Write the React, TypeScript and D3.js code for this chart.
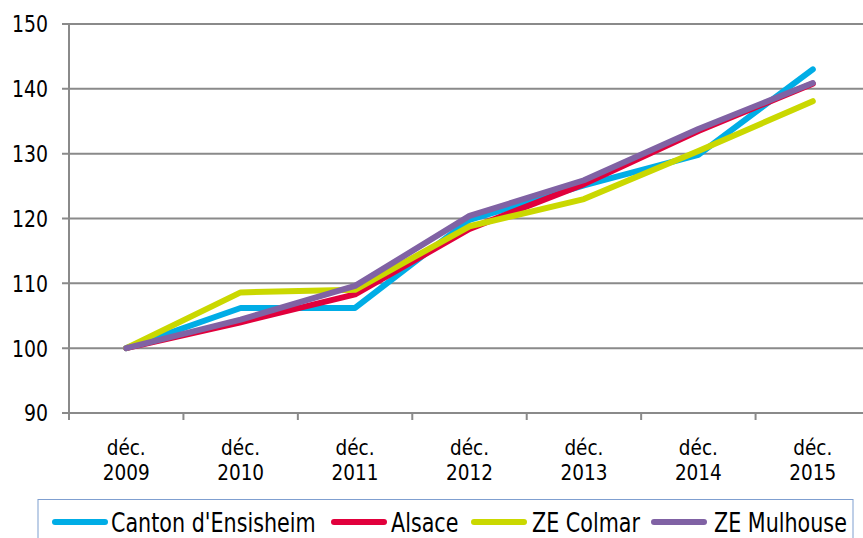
import React from "react";
import * as d3 from "d3";

const categories = ["déc.\n2009", "déc.\n2010", "déc.\n2011", "déc.\n2012", "déc.\n2013", "déc.\n2014", "déc.\n2015"];
const yTicks = [90, 100, 110, 120, 130, 140, 150];
const canton = [100, 106.2, 106.2, 119.8, 125.1, 129.8, 143.0];
const alsace = [100, 104.0, 108.3, 118.4, 125.3, 133.5, 140.8];
const colmar = [100, 108.6, 109.0, 118.8, 123.0, 130.4, 138.1];
const mulhouse = [100, 104.4, 109.6, 120.4, 125.9, 133.8, 140.9];

const seriesNames = ["Canton d'Ensisheim", "Alsace", "ZE Colmar", "ZE Mulhouse"];
const seriesData = [canton, alsace, colmar, mulhouse];
const colors = ["#00ADE6", "#E1003C", "#CAD800", "#8062A4"];

const W = 863, H = 538;
const left = 69, right = 870, top = 24, bottom = 413;
const FONT = "'DejaVu Sans Condensed', 'DejaVu Sans', sans-serif";
const SY = 1.12;

function T({ x, y, size, anchor, children }: { x: number; y: number; size: number; anchor?: string; children: React.ReactNode }) {
  return (
    <text transform={`translate(${x},${y}) scale(1,${SY})`} dy="0.36em" textAnchor={anchor || "start"} fontSize={size} fill="#000">
      {children}
    </text>
  );
}

export default function App() {
  const x = d3.scaleBand<number>().domain(d3.range(categories.length)).range([left, right]).paddingInner(0).paddingOuter(0);
  const y = d3.scaleLinear().domain([90, 150]).range([bottom, top]);
  const line = d3.line<number>().x((_, i) => (x(i) as number) + x.bandwidth() / 2).y((d) => y(d));

  const legendItems = [
    { lx: 55, tx: 111 },
    { lx: 334, tx: 391 },
    { lx: 474, tx: 532 },
    { lx: 654, tx: 714 },
  ];

  return (
    <svg width={W} height={H} style={{ position: "absolute", left: 0, top: 0, background: "#fff" }} fontFamily={FONT}>
      {yTicks.map((t) => (
        <g key={t}>
          <line x1={62} x2={W} y1={y(t)} y2={y(t)} stroke="#8a8a8a" strokeWidth={2} />
          <T x={48} y={y(t)} size={21} anchor="end">{t}</T>
        </g>
      ))}
      <line x1={left} x2={left} y1={top} y2={bottom + 7} stroke="#8a8a8a" strokeWidth={2} />
      {categories.map((c, i) => {
        const bx = x(i) as number;
        const cx = bx + x.bandwidth() / 2;
        const parts = c.split("\n");
        return (
          <g key={i}>
            <line x1={bx + x.bandwidth()} x2={bx + x.bandwidth()} y1={bottom} y2={bottom + 7} stroke="#8a8a8a" strokeWidth={2} />
            <text x={cx} y={448} dy="0.36em" textAnchor="middle" fontSize={20.5} fill="#000">{parts[0]}</text>
            <text x={cx} y={472.5} dy="0.36em" textAnchor="middle" fontSize={20.5} fill="#000">{parts[1]}</text>
          </g>
        );
      })}
      {seriesData.map((s, k) => (
        <path key={k} d={line(s) || ""} fill="none" stroke={colors[k]} strokeWidth={6} strokeLinejoin="round" strokeLinecap="round" />
      ))}
      <rect x={38} y={499.5} width={815} height={60} fill="none" stroke="#7f9fd0" strokeWidth={1} />
      {seriesNames.map((n, k) => (
        <g key={n}>
          <line x1={legendItems[k].lx} x2={legendItems[k].lx + 50} y1={522} y2={522} stroke={colors[k]} strokeWidth={6} strokeLinecap="round" />
          <T x={legendItems[k].tx} y={523} size={23}>{n}</T>
        </g>
      ))}
    </svg>
  );
}
